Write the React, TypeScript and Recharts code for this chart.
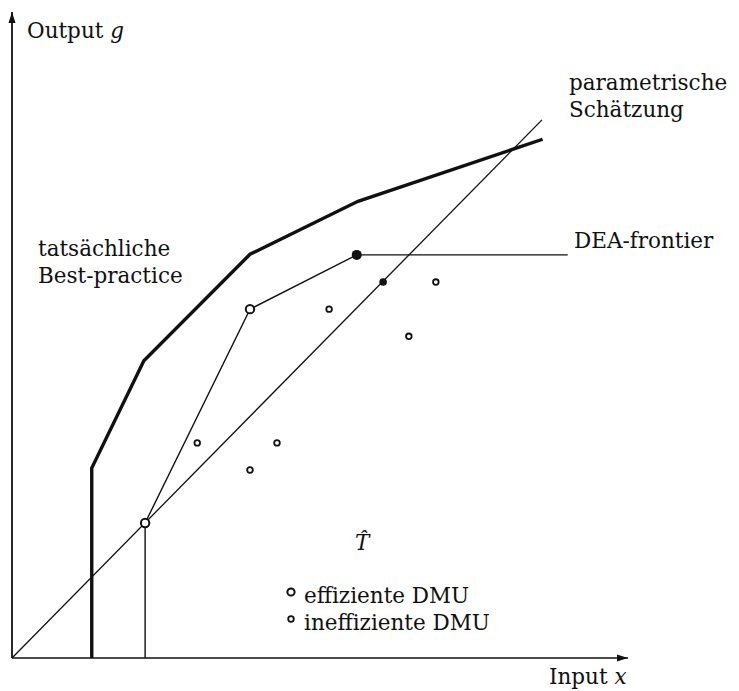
import React from 'react';
import { ComposedChart, Line, Scatter, XAxis, YAxis, Customized } from 'recharts';

// Schematic values (input x, output g)
const X_MAX = 98.1;
const Y_MAX = 100;

const bestPracticeX = [12.7, 12.7, 21.0, 37.9, 55.1, 84.5];
const bestPracticeY = [0, 29.4, 46.0, 62.5, 70.7, 80.3];

const deaX = [21.2, 37.9, 54.9, 88.5];
const deaY = [20.9, 54.0, 62.4, 62.4];

const deaDropX = [21.2, 21.2];
const deaDropY = [0, 20.9];

const parametricX = [0, 84.4];
const parametricY = [0, 83.3];

const efficientX = [21.2, 37.9];
const efficientY = [20.9, 54.0];

const inefficientX = [29.5, 42.2, 37.9, 50.5, 63.2, 67.5];
const inefficientY = [33.3, 33.3, 29.1, 54.0, 49.8, 58.2];

const frontierDotX = [54.9];
const frontierDotY = [62.4];

const paramDotX = [59.1];
const paramDotY = [58.2];

const zip = (xs: number[], ys: number[]) => xs.map((x, i) => ({ x, y: ys[i] }));

const bestPractice = zip(bestPracticeX, bestPracticeY);
const dea = zip(deaX, deaY);
const deaDrop = zip(deaDropX, deaDropY);
const parametric = zip(parametricX, parametricY);
const efficient = zip(efficientX, efficientY);
const inefficient = zip(inefficientX, inefficientY);
const frontierDot = zip(frontierDotX, frontierDotY);
const paramDot = zip(paramDotX, paramDotY);
const xArrow = [{ x: X_MAX, y: 0 }];
const yArrow = [{ x: 0, y: Y_MAX }];

const FONT = '"DejaVu Serif", serif';

const OpenBig = (p: any) => (
  <circle cx={p.cx} cy={p.cy} r={4.2} fill="#fff" stroke="#111" strokeWidth={2} />
);
const OpenSmall = (p: any) => (
  <circle cx={p.cx} cy={p.cy} r={2.8} fill="#fff" stroke="#111" strokeWidth={1.8} />
);
const FilledBig = (p: any) => <circle cx={p.cx} cy={p.cy} r={5} fill="#111" />;
const FilledSmall = (p: any) => <circle cx={p.cx} cy={p.cy} r={3.8} fill="#111" />;
const ArrowRight = (p: any) => (
  <polygon points={`${p.cx},${p.cy} ${p.cx - 11},${p.cy - 3.5} ${p.cx - 11},${p.cy + 3.5}`} fill="#111" />
);
const ArrowUp = (p: any) => (
  <polygon points={`${p.cx},${p.cy} ${p.cx - 3.5},${p.cy + 11} ${p.cx + 3.5},${p.cy + 11}`} fill="#111" />
);

const Texts = () => (
  <g fontFamily={FONT} fontSize={21.5} fill="#111">
    <text x={27} y={38}>
      Output <tspan fontStyle="italic">g</tspan>
    </text>
    <text x={569} y={90}>parametrische</text>
    <text x={569} y={117}>Schätzung</text>
    <text x={574} y={248}>DEA-frontier</text>
    <text x={38} y={256}>tatsächliche</text>
    <text x={38} y={283}>Best-practice</text>
    <text x={355} y={550} fontStyle="italic">T̂</text>
    <circle cx={291} cy={592} r={3.6} fill="#fff" stroke="#111" strokeWidth={2} />
    <text x={304} y={603}>effiziente DMU</text>
    <circle cx={291} cy={619} r={2.8} fill="#fff" stroke="#111" strokeWidth={1.8} />
    <text x={304} y={630}>ineffiziente DMU</text>
    <text x={549} y={684}>
      Input <tspan fontStyle="italic">x</tspan>
    </text>
  </g>
);

export default function App() {
  return (
    <div style={{ position: 'absolute', left: 0, top: 0, background: '#fff' }}>
      <ComposedChart
        width={739}
        height={691}
        margin={{ top: 12, right: 111, bottom: 32, left: 11 }}
      >
        <XAxis
          type="number"
          dataKey="x"
          domain={[0, X_MAX]}
          tick={false}
          tickLine={false}
          height={1}
          axisLine={{ stroke: '#111', strokeWidth: 1.6 }}
        />
        <YAxis
          type="number"
          dataKey="y"
          domain={[0, Y_MAX]}
          tick={false}
          tickLine={false}
          width={1}
          axisLine={{ stroke: '#111', strokeWidth: 1.8 }}
        />
        <Line data={parametric} dataKey="y" stroke="#111" strokeWidth={1.3} dot={false} isAnimationActive={false} />
        <Line data={deaDrop} dataKey="y" stroke="#111" strokeWidth={1.4} dot={false} isAnimationActive={false} />
        <Line data={dea} dataKey="y" stroke="#111" strokeWidth={1.4} dot={false} isAnimationActive={false} />
        <Line data={bestPractice} dataKey="y" stroke="#111" strokeWidth={3.4} dot={false} isAnimationActive={false} />
        <Scatter data={efficient} dataKey="y" shape={OpenBig} isAnimationActive={false} />
        <Scatter data={inefficient} dataKey="y" shape={OpenSmall} isAnimationActive={false} />
        <Scatter data={frontierDot} dataKey="y" shape={FilledBig} isAnimationActive={false} />
        <Scatter data={paramDot} dataKey="y" shape={FilledSmall} isAnimationActive={false} />
        <Scatter data={xArrow} dataKey="y" shape={ArrowRight} isAnimationActive={false} />
        <Scatter data={yArrow} dataKey="y" shape={ArrowUp} isAnimationActive={false} />
        <Customized component={Texts} />
      </ComposedChart>
    </div>
  );
}
